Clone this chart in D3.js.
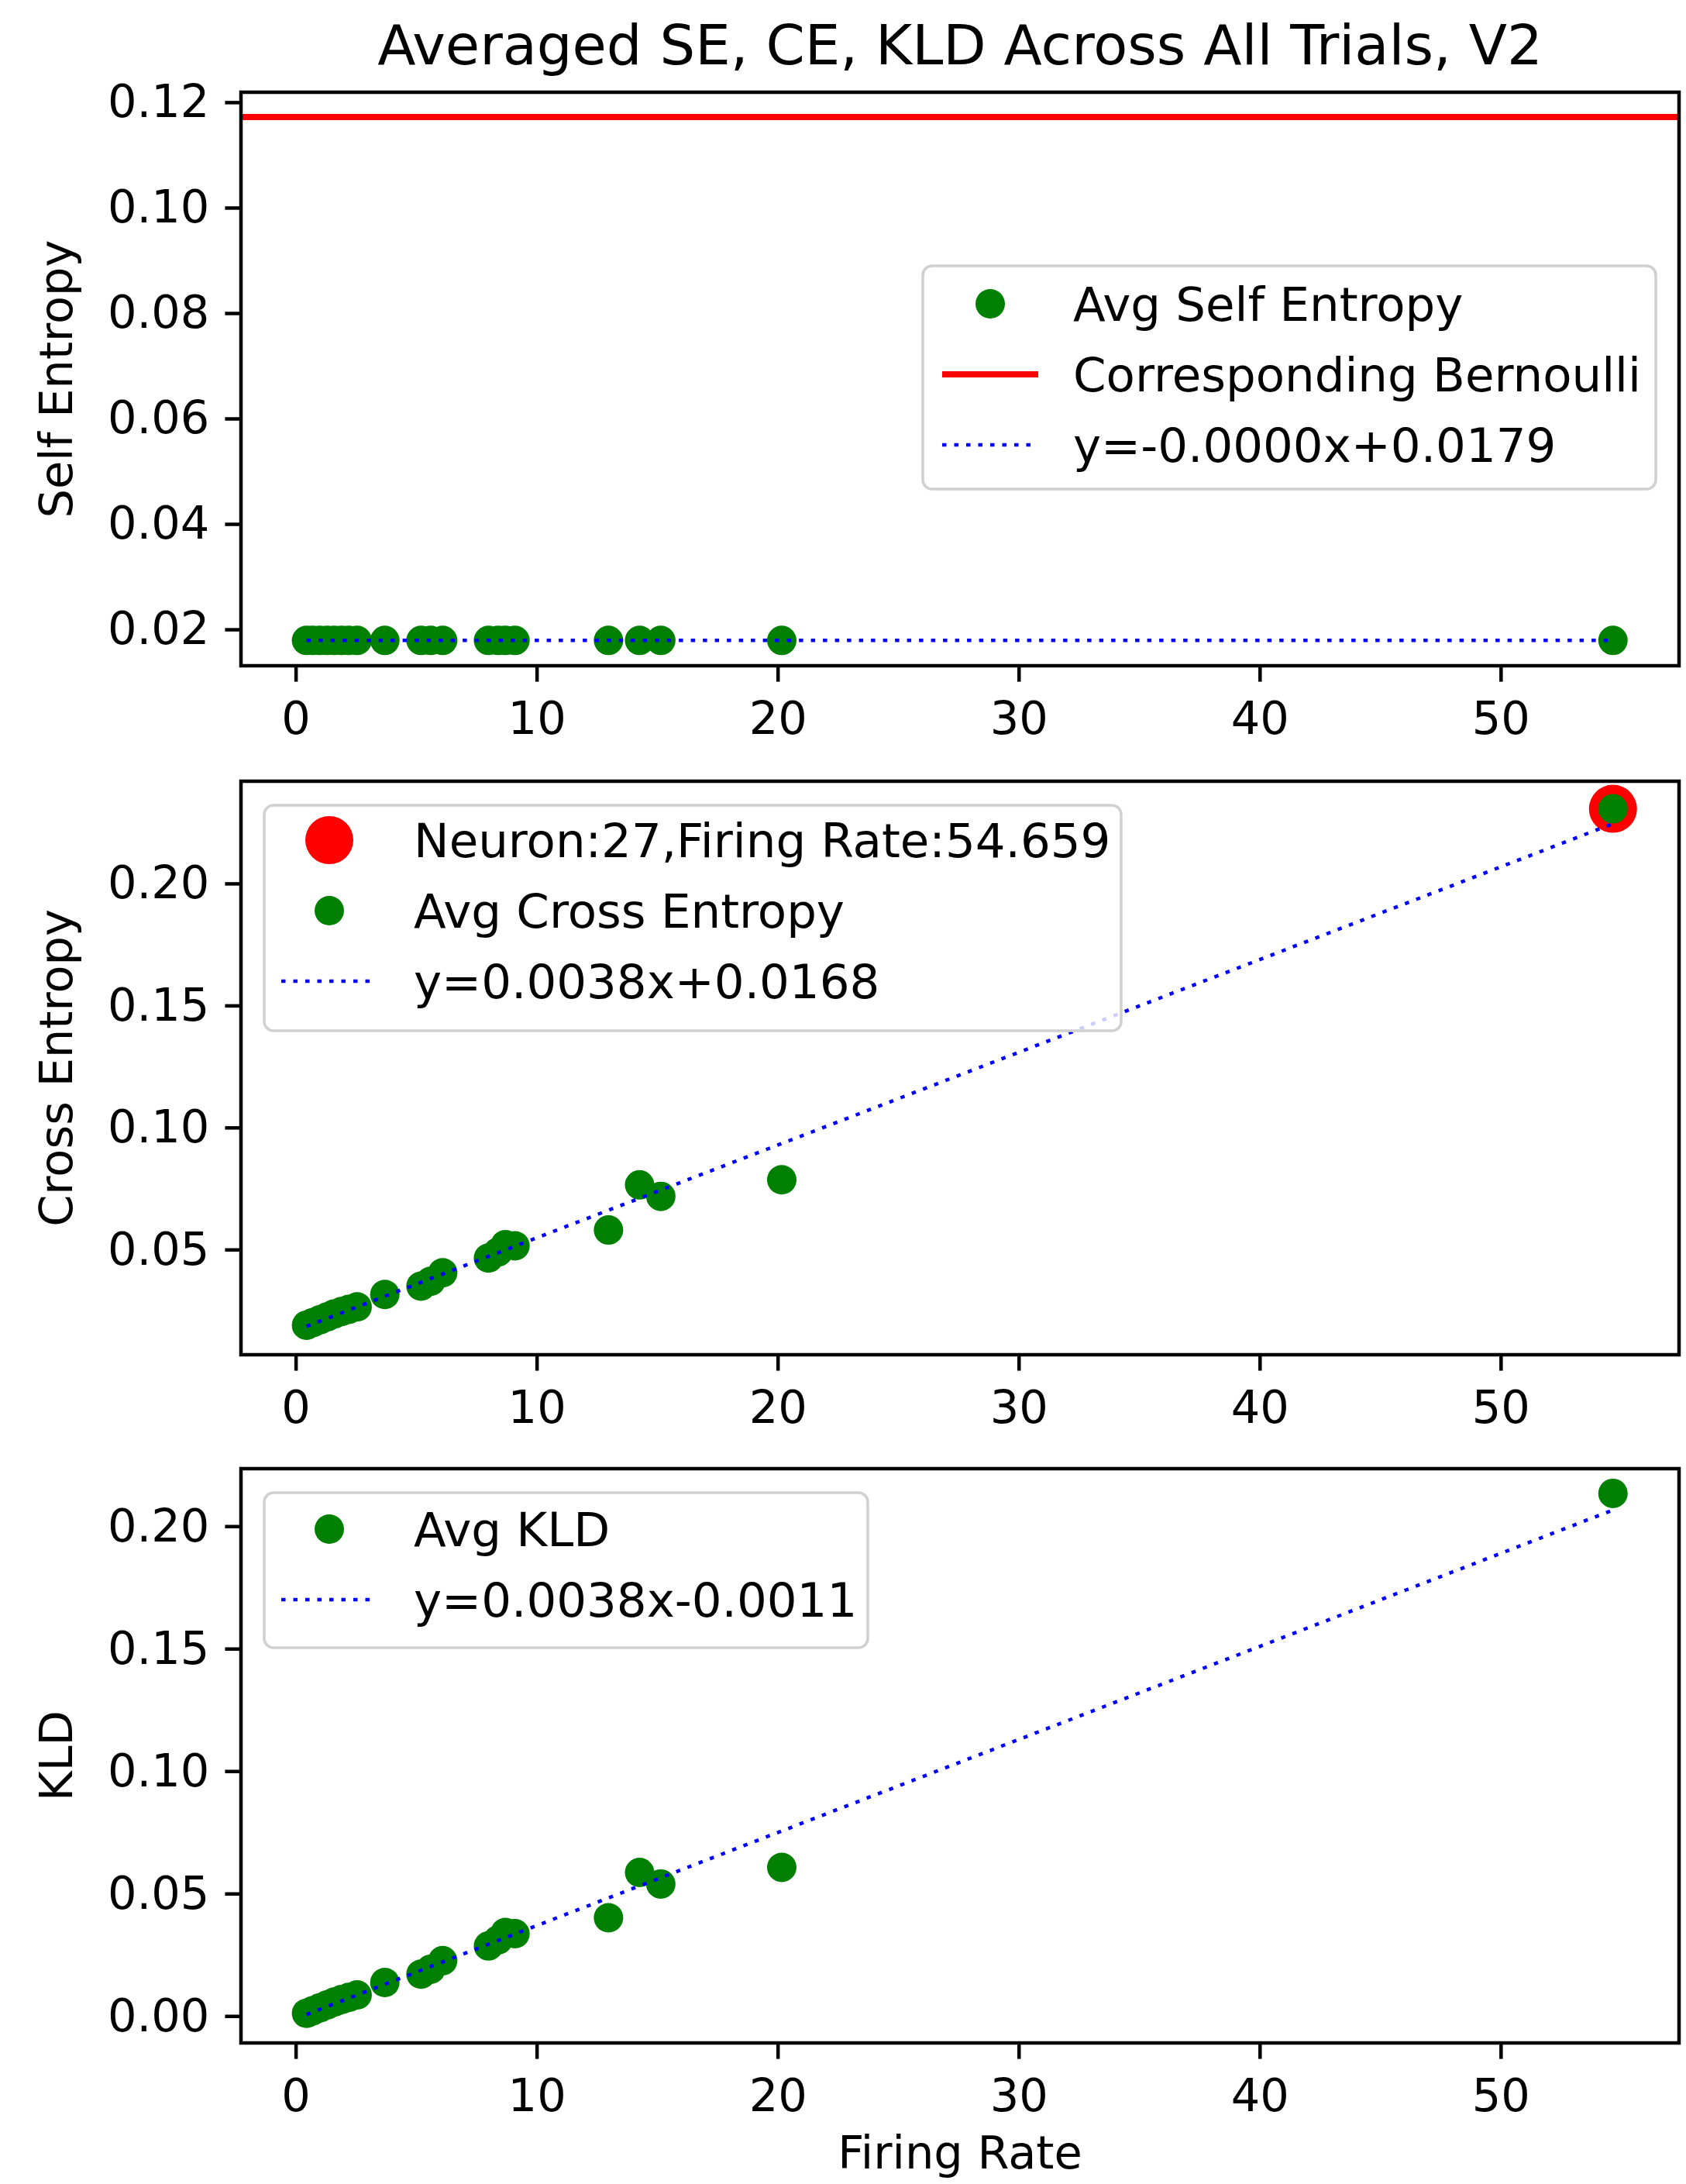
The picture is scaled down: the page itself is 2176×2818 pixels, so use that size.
<!DOCTYPE html>
<html><head><meta charset="utf-8">
<script src="https://cdn.jsdelivr.net/npm/d3@7"></script>
<style>body{margin:0;background:#fff}svg{display:block}text{font-family:"DejaVu Sans",sans-serif;fill:#000}</style>
</head><body>
<script>
// ---- data ----
const firingRate = [0.45, 0.7, 1.0, 1.3, 1.6, 1.9, 2.2, 2.55, 3.7, 5.2, 5.6, 6.1, 8.0, 8.4, 8.7, 9.1, 12.98, 14.27, 15.15, 20.17, 54.659];
const selfEntropy = [0.0179, 0.0179, 0.0179, 0.0179, 0.0179, 0.0179, 0.0179, 0.0179, 0.0179, 0.0179, 0.0179, 0.0179, 0.0179, 0.0179, 0.0179, 0.0179, 0.0179, 0.0179, 0.0179, 0.0179, 0.0179];
const crossEntropy = [0.0190, 0.0200, 0.0212, 0.0224, 0.0236, 0.0246, 0.0255, 0.0265, 0.0316, 0.0350, 0.0370, 0.0405, 0.0465, 0.0490, 0.0520, 0.0515, 0.0580, 0.0765, 0.0718, 0.0786, 0.2306];
const kld = [0.0011, 0.0021, 0.0033, 0.0045, 0.0057, 0.0067, 0.0076, 0.0086, 0.0137, 0.0171, 0.0191, 0.0226, 0.0286, 0.0311, 0.0341, 0.0336, 0.0401, 0.0586, 0.0539, 0.0607, 0.2134];
const bernoulli = 0.1172;
const highlight = {neuron: 27, rate: 54.659, ce: 0.2306};
const fitSlope = [-0.0000, 0.0038, 0.0038];
const fitIntercept = [0.0179, 0.0168, -0.0011];
const fitLabels = ["y=-0.0000x+0.0179", "y=0.0038x+0.0168", "y=0.0038x-0.0011"];
const xTicks = [0, 10, 20, 30, 40, 50];
const yTicksSE = [0.02, 0.04, 0.06, 0.08, 0.10, 0.12];
const yTicksCE = [0.05, 0.10, 0.15, 0.20];
const yTicksKLD = [0.00, 0.05, 0.10, 0.15, 0.20];
const yLabels = ["Self Entropy", "Cross Entropy", "KLD"];
const title = "Averaged SE, CE, KLD Across All Trials, V2";

// ---- layout ----
const W = 2176, H = 2818;
const FS = 59, LFS = 61;
const left = 311, right = 2167;
const panels = [
  {top: 119, bottom: 859, dom: [0.0131, 0.1219], ticks: yTicksSE, ys: selfEntropy},
  {top: 1008, bottom: 1748, dom: [0.0069, 0.2419], ticks: yTicksCE, ys: crossEntropy},
  {top: 1895, bottom: 2636, dom: [-0.011, 0.2235], ticks: yTicksKLD, ys: kld}
];
const svg = d3.select("body").append("svg").attr("width", W).attr("height", H);
const x = d3.scaleLinear().domain([-2.27, 57.4]).range([left, right]);
const GREEN = "#008000", RED = "#ff0000", BLUE = "#0000ff";
const R = 19, RR = 31;

svg.append("text").attr("x", (left + right) / 2).attr("y", 83).attr("text-anchor", "middle")
  .style("font-size", "72px").text(title);

panels.forEach((p, i) => {
  const y = d3.scaleLinear().domain(p.dom).range([p.bottom, p.top]);
  const g = svg.append("g");
  const clipId = "clip" + i;
  svg.append("clipPath").attr("id", clipId).append("rect")
    .attr("x", left).attr("y", p.top).attr("width", right - left).attr("height", p.bottom - p.top);
  const plot = g.append("g").attr("clip-path", `url(#${clipId})`);

  if (i === 1) {
    plot.append("circle").attr("cx", x(highlight.rate)).attr("cy", y(highlight.ce)).attr("r", RR).attr("fill", RED);
  }
  plot.selectAll("circle.pt").data(firingRate).join("circle").attr("class", "pt")
    .attr("cx", d => x(d)).attr("cy", (d, k) => y(p.ys[k])).attr("r", R).attr("fill", GREEN);
  if (i === 0) {
    plot.append("line").attr("x1", left).attr("x2", right).attr("y1", y(bernoulli)).attr("y2", y(bernoulli))
      .attr("stroke", RED).attr("stroke-width", 8);
  }
  const xmin = d3.min(firingRate), xmax = d3.max(firingRate);
  const line = d3.line().x(d => x(d[0])).y(d => y(d[1]));
  plot.append("path").datum([[xmin, fitSlope[i] * xmin + fitIntercept[i]], [xmax, fitSlope[i] * xmax + fitIntercept[i]]])
    .attr("d", line).attr("fill", "none").attr("stroke", BLUE).attr("stroke-width", 4.5)
    .attr("stroke-dasharray", "5.5,10");

  // axes
  const xa = d3.axisBottom(x).tickValues(xTicks).tickFormat(d3.format("d")).tickSize(20.6).tickPadding(26);
  const ya = d3.axisLeft(y).tickValues(p.ticks).tickFormat(d3.format(".2f")).tickSize(20.6).tickPadding(20);
  const gx = svg.append("g").attr("transform", `translate(0,${p.bottom})`).call(xa);
  const gy = svg.append("g").attr("transform", `translate(${left},0)`).call(ya);
  [gx, gy].forEach(a => {
    a.select(".domain").remove();
    a.selectAll(".tick line").attr("stroke", "#000").attr("stroke-width", 4.5);
    a.selectAll(".tick text").style("font-size", FS + "px").style("font-family", "DejaVu Sans");
  });
  svg.append("rect").attr("x", left).attr("y", p.top).attr("width", right - left).attr("height", p.bottom - p.top)
    .attr("fill", "none").attr("stroke", "#000").attr("stroke-width", 4.5);

  svg.append("text").attr("transform", `translate(93,${(p.top + p.bottom) / 2}) rotate(-90)`)
    .attr("text-anchor", "middle").style("font-size", FS + "px").text(yLabels[i]);
});

// legends
function legend(box, entries) {
  const g = svg.append("g");
  g.append("rect").attr("x", box.x).attr("y", box.y).attr("width", box.w).attr("height", box.h)
    .attr("rx", 12).attr("fill", "#fff").attr("fill-opacity", 0.8).attr("stroke", "#d0d0d0").attr("stroke-width", 3.5);
  entries.forEach((e, k) => {
    const cy = box.y + box.first + k * 91;
    const hx = box.x + box.hx;
    if (e.type === "dot") {
      g.append("circle").attr("cx", hx).attr("cy", cy).attr("r", e.r).attr("fill", e.color);
    } else if (e.type === "solid") {
      g.append("line").attr("x1", hx - 62).attr("x2", hx + 62).attr("y1", cy).attr("y2", cy).attr("stroke", e.color).attr("stroke-width", 8);
    } else {
      g.append("line").attr("x1", hx - 62).attr("x2", hx + 62).attr("y1", cy).attr("y2", cy).attr("stroke", e.color)
        .attr("stroke-width", 4.5).attr("stroke-dasharray", "5.5,10");
    }
    g.append("text").attr("x", box.x + box.tx).attr("y", cy + 22).style("font-size", LFS + "px").text(e.label);
  });
}
legend({x: 1191, y: 343, w: 946, h: 288, first: 49, hx: 87, tx: 194}, [
  {type: "dot", color: GREEN, r: R, label: "Avg Self Entropy"},
  {type: "solid", color: RED, label: "Corresponding Bernoulli"},
  {type: "dotted", color: BLUE, label: fitLabels[0]}
]);
legend({x: 341, y: 1039, w: 1106, h: 291, first: 45, hx: 84, tx: 193}, [
  {type: "dot", color: RED, r: RR, label: `Neuron:${highlight.neuron},Firing Rate:${highlight.rate}`},
  {type: "dot", color: GREEN, r: R, label: "Avg Cross Entropy"},
  {type: "dotted", color: BLUE, label: fitLabels[1]}
]);
legend({x: 341, y: 1926, w: 779, h: 200, first: 47, hx: 84, tx: 193}, [
  {type: "dot", color: GREEN, r: R, label: "Avg KLD"},
  {type: "dotted", color: BLUE, label: fitLabels[2]}
]);

svg.append("text").attr("x", (left + right) / 2).attr("y", 2798).attr("text-anchor", "middle")
  .style("font-size", FS + "px").text("Firing Rate");
</script>
</body></html>
